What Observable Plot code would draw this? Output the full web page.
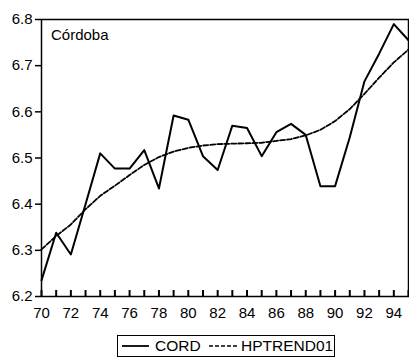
<!DOCTYPE html>
<html>
<head>
<meta charset="utf-8">
<script src="https://cdn.jsdelivr.net/npm/d3@7"></script>
<script src="https://cdn.jsdelivr.net/npm/@observablehq/plot@0.6"></script>
<style>
  html, body { margin: 0; padding: 0; background: #fff; }
  #chart { position: relative; width: 409px; height: 358px; font-family: "Liberation Sans", Arial, sans-serif; }
  #chart svg { display: block; }
  .legend {
    position: absolute; left: 117px; top: 335px; width: 216px; height: 20px;
    border: 1.5px solid #000; overflow: hidden; background: #fff;
    font-size: 15.5px; color: #000; line-height: 20px; white-space: nowrap;
  }
  .legend svg { position: absolute; top: 0; }
  .legend span { position: absolute; top: 0; }
</style>
</head>
<body>
<div id="chart"></div>
<script>
// Annual series, 1970-1995 (two-digit years)
const years = d3.range(70, 96);
const cord = [
  6.235, 6.338, 6.291, 6.400, 6.510, 6.477, 6.477, 6.517, 6.434, 6.592,
  6.583, 6.504, 6.474, 6.570, 6.565, 6.504, 6.556, 6.574, 6.550, 6.439,
  6.439, 6.545, 6.666, 6.726, 6.790, 6.755
];
const hptrend = [
  6.302, 6.331, 6.356, 6.389, 6.418, 6.440, 6.463, 6.485, 6.502, 6.514,
  6.522, 6.527, 6.530, 6.531, 6.532, 6.533, 6.537, 6.541, 6.549, 6.561,
  6.580, 6.606, 6.639, 6.674, 6.707, 6.735
];
const xLabels = d3.range(70, 95, 2);
const yTicks = [6.2, 6.3, 6.4, 6.5, 6.6, 6.7, 6.8];
const panelTitle = "Córdoba";
const seriesNames = ["CORD", "HPTREND01"];

const rows = years.map((y, i) => ({year: y, cord: cord[i], trend: hptrend[i]}));

const W = 409, H = 332, MT = 19, MB = 36, TICK = 6;

const chart = Plot.plot({
  width: W,
  height: H,
  marginLeft: 41,
  marginRight: 1,
  marginTop: MT,
  marginBottom: MB,
  style: {fontFamily: "'Liberation Sans', Arial, sans-serif", fontSize: "15px", color: "#000", background: "#fff"},
  x: {domain: [70, 95], label: null},
  y: {domain: [6.2, 6.8], label: null},
  marks: [
    // minor ticks on every year, pointing up into the plot from the bottom edge
    Plot.tickX(years, {x: d => d, stroke: "#000", strokeWidth: 2, insetTop: H - MT - MB - TICK}),
    // year labels every two years
    Plot.axisX({ticks: xLabels, tickSize: 0, tickPadding: 11, tickFormat: d => String(d), label: null, fontSize: 15}),
    Plot.axisY({ticks: yTicks, tickSize: 6, tickPadding: 3, tickFormat: d3.format(".1f"), label: null, strokeWidth: 1.5, fontSize: 15}),
    Plot.line(rows, {x: "year", y: "trend", stroke: "#000", strokeWidth: 1.8, strokeDasharray: "5,2"}),
    Plot.line(rows, {x: "year", y: "cord", stroke: "#000", strokeWidth: 2}),
    Plot.frame({stroke: "#000", strokeWidth: 1.5}),
    Plot.text([panelTitle], {frameAnchor: "top-left", text: d => d, dx: 9.5, dy: 10, lineAnchor: "top", textAnchor: "start", fontSize: 15, fill: "#000"})
  ]
});

const root = document.getElementById("chart");
root.appendChild(chart);

// legend box below the plot
const legend = document.createElement("div");
legend.className = "legend";
legend.innerHTML = `
  <svg width="30" height="20" style="left:4px"><line x1="0" x2="27" y1="10" y2="10" stroke="#000" stroke-width="1.8"/></svg>
  <span style="left:37px">${seriesNames[0]}</span>
  <svg width="32" height="20" style="left:91px"><line x1="0" x2="29" y1="10" y2="10" stroke="#000" stroke-width="1.6" stroke-dasharray="4,2"/></svg>
  <span style="left:123px">${seriesNames[1]}</span>`;
root.appendChild(legend);
</script>
</body>
</html>
